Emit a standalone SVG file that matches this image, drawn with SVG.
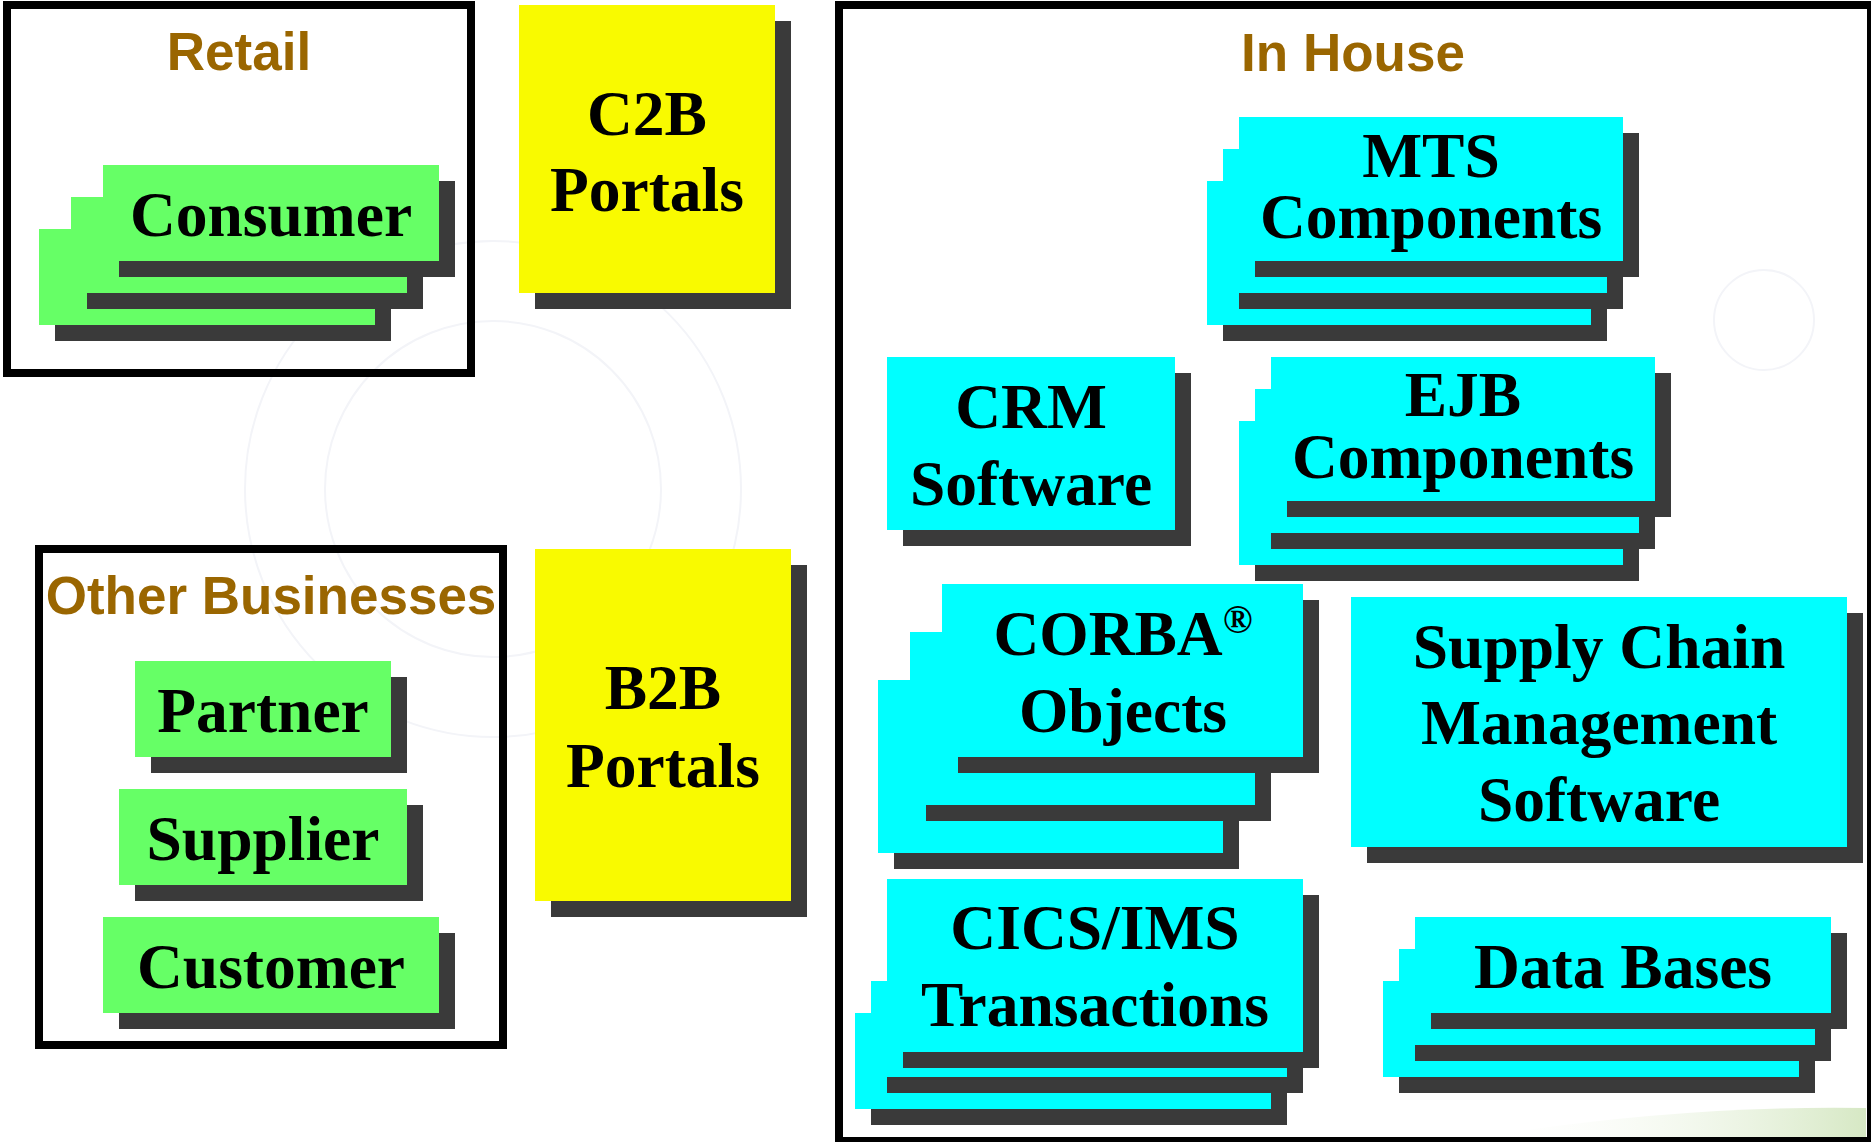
<svg xmlns="http://www.w3.org/2000/svg" width="1871" height="1142" viewBox="0 0 1871 1142">
  <defs>
    <style>
      .frame { fill: none; stroke: #000000; stroke-width: 8; }
      .sh { fill: #3a3a3a; }
      .g { fill: #66ff66; }
      .c { fill: #00ffff; }
      .y { fill: #f9fa00; }
      .hd { font-family: "Liberation Sans", Arial, sans-serif; font-weight: bold; font-size: 53px; fill: #9a6600; text-anchor: middle; }
      .lb { font-family: "Liberation Serif", "Times New Roman", serif; font-weight: bold; font-size: 63.5px; fill: #000000; text-anchor: middle; }
      .wm { fill: none; stroke: #f3f4f8; stroke-width: 2; }
    </style>
    <linearGradient id="swoosh" x1="0" y1="0" x2="1" y2="0">
      <stop offset="0" stop-color="#ffffff" stop-opacity="0"/>
      <stop offset="1" stop-color="#d6e8c4"/>
    </linearGradient>
  </defs>
  <rect width="1871" height="1142" fill="#ffffff"/>

  <!-- faint background watermark -->
  <g id="watermark">
    <circle class="wm" cx="493" cy="489" r="248"/>
    <circle class="wm" cx="493" cy="489" r="168"/>
    <circle class="wm" cx="1764" cy="320" r="50"/>
    <path d="M1480,1137 Q1680,1105 1866,1108 L1866,1137 Z" fill="url(#swoosh)"/>
  </g>

  <!-- group frames -->
  <g id="retail">
    <rect class="frame" x="7" y="5" width="464" height="368"/>
    <text class="hd" x="239" y="70">Retail</text>
  </g>
  <g id="other-businesses">
    <rect class="frame" x="39" y="549" width="464" height="496"/>
    <text class="hd" x="271" y="614">Other Businesses</text>
  </g>
  <g id="in-house">
    <rect class="frame" x="839" y="5" width="1032" height="1136"/>
    <text class="hd" x="1353" y="71">In House</text>
  </g>

  <!-- Retail -->
  <g id="consumer">
    <rect class="sh" x="55" y="245" width="336" height="96"/>
    <rect class="g" x="39" y="229" width="336" height="96"/>
    <rect class="sh" x="87" y="213" width="336" height="96"/>
    <rect class="g" x="71" y="197" width="336" height="96"/>
    <rect class="sh" x="119" y="181" width="336" height="96"/>
    <rect class="g" x="103" y="165" width="336" height="96"/>
    <text class="lb" x="271" y="236">Consumer</text>
  </g>

  <g id="c2b-portals">
    <rect class="sh" x="535" y="21" width="256" height="288"/>
    <rect class="y" x="519" y="5" width="256" height="288"/>
    <text class="lb" x="647" y="135">C2B</text>
    <text class="lb" x="647" y="211">Portals</text>
  </g>

  <!-- Other Businesses -->
  <g id="partner">
    <rect class="sh" x="151" y="677" width="256" height="96"/>
    <rect class="g" x="135" y="661" width="256" height="96"/>
    <text class="lb" x="263" y="732">Partner</text>
  </g>
  <g id="supplier">
    <rect class="sh" x="135" y="805" width="288" height="96"/>
    <rect class="g" x="119" y="789" width="288" height="96"/>
    <text class="lb" x="263" y="860">Supplier</text>
  </g>
  <g id="customer">
    <rect class="sh" x="119" y="933" width="336" height="96"/>
    <rect class="g" x="103" y="917" width="336" height="96"/>
    <text class="lb" x="271" y="988">Customer</text>
  </g>

  <g id="b2b-portals">
    <rect class="sh" x="551" y="565" width="256" height="352"/>
    <rect class="y" x="535" y="549" width="256" height="352"/>
    <text class="lb" x="663" y="709">B2B</text>
    <text class="lb" x="663" y="787">Portals</text>
  </g>

  <!-- In House -->
  <g id="mts-components">
    <rect class="sh" x="1223" y="197" width="384" height="144"/>
    <rect class="c" x="1207" y="181" width="384" height="144"/>
    <rect class="sh" x="1239" y="165" width="384" height="144"/>
    <rect class="c" x="1223" y="149" width="384" height="144"/>
    <rect class="sh" x="1255" y="133" width="384" height="144"/>
    <rect class="c" x="1239" y="117" width="384" height="144"/>
    <text class="lb" x="1431" y="177">MTS</text>
    <text class="lb" x="1431" y="238">Components</text>
  </g>

  <g id="crm-software">
    <rect class="sh" x="903" y="373" width="288" height="173"/>
    <rect class="c" x="887" y="357" width="288" height="173"/>
    <text class="lb" x="1031" y="428">CRM</text>
    <text class="lb" x="1031" y="505">Software</text>
  </g>

  <g id="ejb-components">
    <rect class="sh" x="1255" y="437" width="384" height="144"/>
    <rect class="c" x="1239" y="421" width="384" height="144"/>
    <rect class="sh" x="1271" y="405" width="384" height="144"/>
    <rect class="c" x="1255" y="389" width="384" height="144"/>
    <rect class="sh" x="1287" y="373" width="384" height="144"/>
    <rect class="c" x="1271" y="357" width="384" height="144"/>
    <text class="lb" x="1463" y="416">EJB</text>
    <text class="lb" x="1463" y="478">Components</text>
  </g>

  <g id="corba-objects">
    <rect class="sh" x="894" y="696" width="345" height="173"/>
    <rect class="c" x="878" y="680" width="345" height="173"/>
    <rect class="sh" x="926" y="648" width="345" height="173"/>
    <rect class="c" x="910" y="632" width="345" height="173"/>
    <rect class="sh" x="958" y="600" width="361" height="173"/>
    <rect class="c" x="942" y="584" width="361" height="173"/>
    <text class="lb" x="1123" y="655">CORBA<tspan font-size="40" dy="-22">®</tspan></text>
    <text class="lb" x="1123" y="732">Objects</text>
  </g>

  <g id="supply-chain-management-software">
    <rect class="sh" x="1367" y="613" width="496" height="250"/>
    <rect class="c" x="1351" y="597" width="496" height="250"/>
    <text class="lb" x="1599" y="668">Supply Chain</text>
    <text class="lb" x="1599" y="744">Management</text>
    <text class="lb" x="1599" y="821">Software</text>
  </g>

  <g id="cics-ims-transactions">
    <rect class="sh" x="871" y="1029" width="416" height="96"/>
    <rect class="c" x="855" y="1013" width="416" height="96"/>
    <rect class="sh" x="887" y="997" width="416" height="96"/>
    <rect class="c" x="871" y="981" width="416" height="96"/>
    <rect class="sh" x="903" y="895" width="416" height="173"/>
    <rect class="c" x="887" y="879" width="416" height="173"/>
    <text class="lb" x="1095" y="949">CICS/IMS</text>
    <text class="lb" x="1095" y="1026">Transactions</text>
  </g>

  <g id="data-bases">
    <rect class="sh" x="1399" y="997" width="416" height="96"/>
    <rect class="c" x="1383" y="981" width="416" height="96"/>
    <rect class="sh" x="1415" y="965" width="416" height="96"/>
    <rect class="c" x="1399" y="949" width="416" height="96"/>
    <rect class="sh" x="1431" y="933" width="416" height="96"/>
    <rect class="c" x="1415" y="917" width="416" height="96"/>
    <text class="lb" x="1623" y="988">Data Bases</text>
  </g>

  <g id="connectors"/>
</svg>
